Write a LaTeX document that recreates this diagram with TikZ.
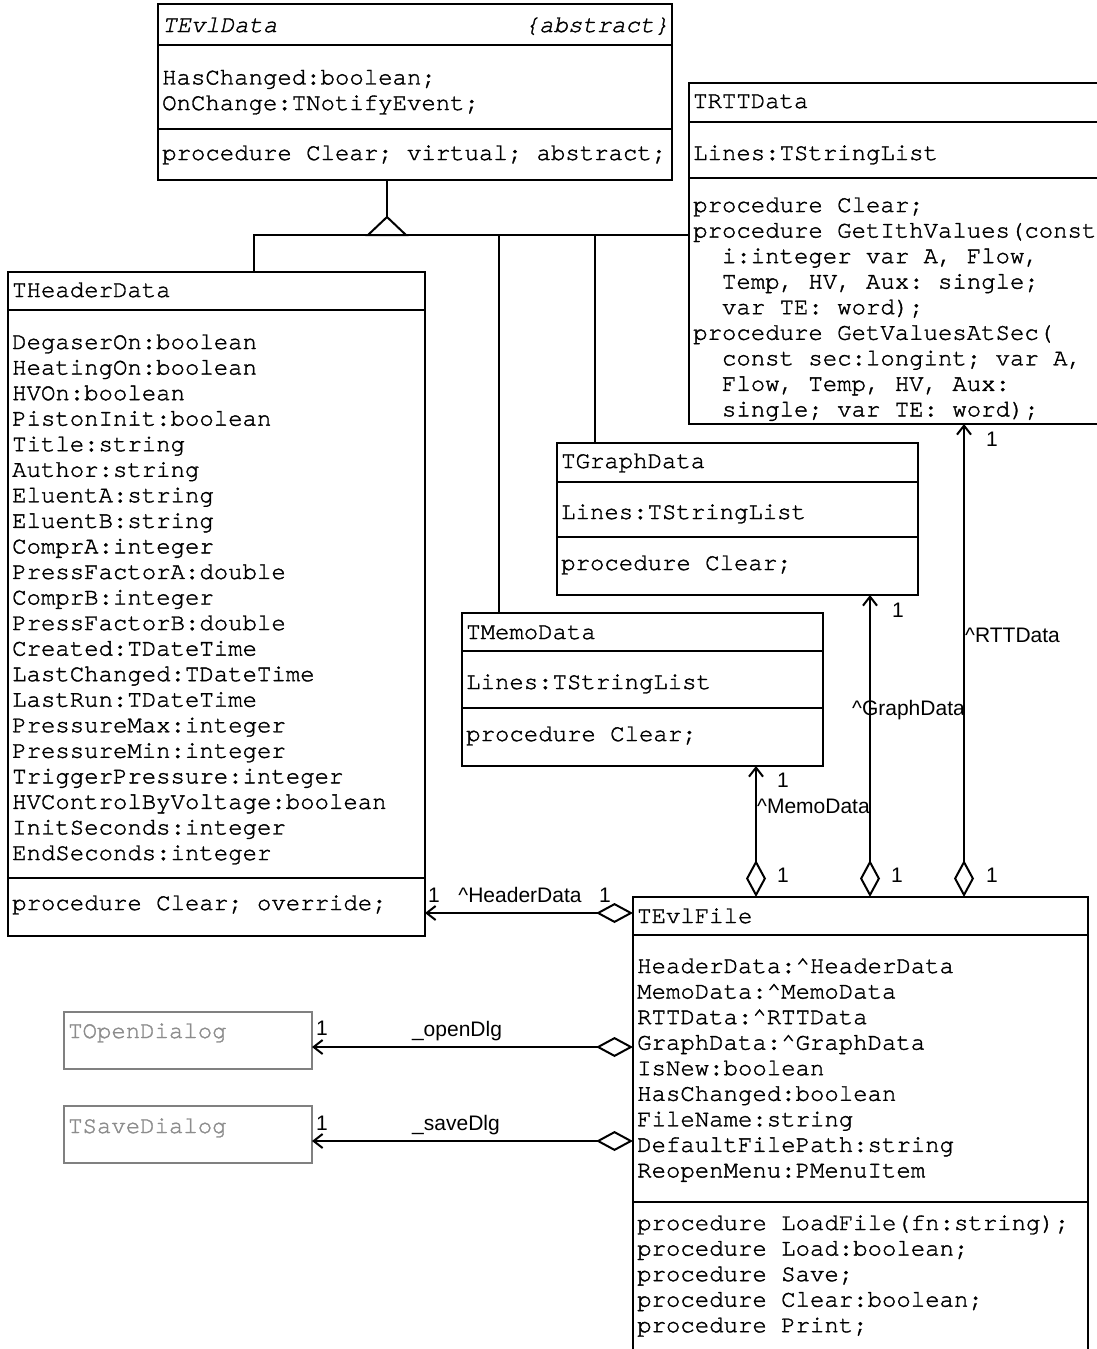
\documentclass[tikz,border=0pt]{standalone}
\usepackage{fontspec}
\usetikzlibrary{arrows.meta}
\newfontfamily\umlmono[FakeBold=1.5]{TeX Gyre Cursor}
\newfontfamily\umlsans{Liberation Sans}
\definecolor{dlggray}{RGB}{128,128,128}
\definecolor{dlgtext}{RGB}{140,140,140}

% Multi-line member lists are anchored at the baseline of their last line.
\begin{document}
\begin{tikzpicture}[x=1pt,y=-1pt,
  classbox/.style={draw, line width=2pt, inner sep=0pt, outer sep=0pt, anchor=north west},
  dialogbox/.style={classbox, draw=dlggray},
  compsep/.style={line width=2pt},
  members/.style={anchor=base west, align=left, inner sep=0pt,
    font=\umlmono\fontsize{24}{25.55}\selectfont\frenchspacing},
  roles/.style={anchor=base, inner sep=0pt, font=\umlsans\fontsize{21}{24}\selectfont},
  gen/.style={line width=2pt},
  aggr/.style={line width=2pt,
    {Diamond[open,length=37pt,width=20pt]}-{Straight Barb[length=9pt,width=14pt]}},
]
\useasboundingbox (0,0) rectangle (1097,1349);

% ---- TEvlData (abstract base) ----
\node[classbox, minimum width=514pt, minimum height=176pt] (evldata) at (158,4) {};
\draw[compsep] (evldata.west |- 0,45) -- (evldata.east |- 0,45);
\draw[compsep] (evldata.west |- 0,129) -- (evldata.east |- 0,129);
\node[members] (evldata-name) at (162,32) {\itshape TEvlData};
\node[members, anchor=base east] (evldata-stereo) at (669,32) {\itshape\{abstract\}};
\node[members] (evldata-attrs) at (162,110) {HasChanged:boolean;\\OnChange:TNotifyEvent;};
\node[members] (evldata-ops) at (162,160) {procedure Clear; virtual; abstract;};

% ---- THeaderData ----
\node[classbox, minimum width=417pt, minimum height=664pt] (header) at (8,272) {};
\draw[compsep] (header.west |- 0,310) -- (header.east |- 0,310);
\draw[compsep] (header.west |- 0,878) -- (header.east |- 0,878);
\node[members] (header-name) at (12,297) {THeaderData};
\node[members] (header-attrs) at (12,860) {DegaserOn:boolean\\HeatingOn:boolean\\HVOn:boolean\\PistonInit:boolean\\Title:string\\Author:string\\EluentA:string\\EluentB:string\\ComprA:integer\\PressFactorA:double\\ComprB:integer\\PressFactorB:double\\Created:TDateTime\\LastChanged:TDateTime\\LastRun:TDateTime\\PressureMax:integer\\PressureMin:integer\\TriggerPressure:integer\\HVControlByVoltage:boolean\\InitSeconds:integer\\EndSeconds:integer};
\node[members] (header-ops) at (12,910) {procedure Clear; override;};

% ---- TRTTData ----
\node[classbox, minimum width=430pt, minimum height=341pt] (rtt) at (689,83) {};
\draw[compsep] (rtt.west |- 0,122) -- (rtt.east |- 0,122);
\draw[compsep] (rtt.west |- 0,178) -- (rtt.east |- 0,178);
\node[members] (rtt-name) at (693,108) {TRTTData};
\node[members] (rtt-attrs) at (693,160) {Lines:TStringList};
\node[members] (rtt-ops) at (693,416.4) {procedure Clear;\\
procedure GetIthValues(const\\
\hspace*{28.8pt}i:integer var A, Flow,\\
\hspace*{28.8pt}Temp, HV, Aux: single;\\
\hspace*{28.8pt}var TE: word);\\
procedure GetValuesAtSec(\\
\hspace*{28.8pt}const sec:longint; var A,\\
\hspace*{28.8pt}Flow, Temp, HV, Aux:\\
\hspace*{28.8pt}single; var TE: word);};

% ---- TGraphData ----
\node[classbox, minimum width=361pt, minimum height=152pt] (graph) at (557,443) {};
\draw[compsep] (graph.west |- 0,482) -- (graph.east |- 0,482);
\draw[compsep] (graph.west |- 0,537) -- (graph.east |- 0,537);
\node[members] (graph-name) at (561,468) {TGraphData};
\node[members] (graph-attrs) at (561,519) {Lines:TStringList};
\node[members] (graph-ops) at (561,570) {procedure Clear;};

% ---- TMemoData ----
\node[classbox, minimum width=361pt, minimum height=153pt] (memo) at (462,613) {};
\draw[compsep] (memo.west |- 0,651) -- (memo.east |- 0,651);
\draw[compsep] (memo.west |- 0,708) -- (memo.east |- 0,708);
\node[members] (memo-name) at (466,639) {TMemoData};
\node[members] (memo-attrs) at (466,689) {Lines:TStringList};
\node[members] (memo-ops) at (466,741) {procedure Clear;};

% ---- TEvlFile ----
\node[classbox, minimum width=455pt, minimum height=490pt] (evlfile) at (633,897) {};
\draw[compsep] (evlfile.west |- 0,935) -- (evlfile.east |- 0,935);
\draw[compsep] (evlfile.west |- 0,1202) -- (evlfile.east |- 0,1202);
\node[members] (evlfile-name) at (637,923) {TEvlFile};
\node[members] (evlfile-attrs) at (637,1177.4) {HeaderData:\textasciicircum HeaderData\\MemoData:\textasciicircum MemoData\\RTTData:\textasciicircum RTTData\\GraphData:\textasciicircum GraphData\\IsNew:boolean\\HasChanged:boolean\\FileName:string\\DefaultFilePath:string\\ReopenMenu:PMenuItem};
\node[members] (evlfile-ops) at (637,1332.2) {procedure LoadFile(fn:string);\\procedure Load:boolean;\\procedure Save;\\procedure Clear:boolean;\\procedure Print;};

% ---- dialogs ----
\node[dialogbox, minimum width=248pt, minimum height=57pt] (opendlg) at (64,1012) {};
\node[members, text=dlgtext] (opendlg-name) at (68,1038) {TOpenDialog};
\node[dialogbox, minimum width=248pt, minimum height=57pt] (savedlg) at (64,1106) {};
\node[members, text=dlgtext] (savedlg-name) at (68,1133) {TSaveDialog};

% ---- generalization ----
\coordinate (genapex) at (387,217);
\draw[gen] (evldata.south -| 387,0) -- (genapex);
\draw[gen] (genapex) -- (368,235) -- (406,235) -- cycle;
\draw[gen] (header.north -| 254,0) |- (rtt.west |- 0,235);
\draw[gen] (memo.north -| 499,0) -- (499,235);
\draw[gen] (graph.north -| 595,0) -- (595,235);

% ---- aggregations ----
\draw[aggr] (evlfile.west |- 0,913) -- (header.east |- 0,913);
\draw[aggr] (evlfile.west |- 0,1047) -- (opendlg.east |- 0,1047);
\draw[aggr] (evlfile.west |- 0,1141) -- (savedlg.east |- 0,1141);
\draw[aggr] (evlfile.north -| 756,0) -- (memo.south -| 756,0);
\draw[aggr] (evlfile.north -| 870,0) -- (graph.south -| 870,0);
\draw[aggr] (evlfile.north -| 964,0) -- (rtt.south -| 964,0);

% ---- role names and multiplicities ----
\node[roles] (hd-mult-a) at (434,902) {1};
\node[roles] (hd-role) at (520,902) {\textasciicircum HeaderData};
\node[roles] (hd-mult-b) at (605,902) {1};
\node[roles] (od-mult) at (322,1035) {1};
\node[roles] (od-role) at (457,1036) {\_openDlg};
\node[roles] (sd-mult) at (322,1130) {1};
\node[roles] (sd-role) at (456,1130) {\_saveDlg};
\node[roles] (md-mult-a) at (783,882) {1};
\node[roles] (gd-mult-a) at (897,882) {1};
\node[roles] (rd-mult-a) at (992,882) {1};
\node[roles] (md-mult-b) at (783,787) {1};
\node[roles] (gd-mult-b) at (898,617) {1};
\node[roles] (rd-mult-b) at (992,446) {1};
\node[roles, anchor=base west] (md-role) at (757,813) {\textasciicircum MemoData};
\node[roles, anchor=base west] (gd-role) at (852,715) {\textasciicircum GraphData};
\node[roles, anchor=base west] (rd-role) at (965,642) {\textasciicircum RTTData};
\end{tikzpicture}
\end{document}
